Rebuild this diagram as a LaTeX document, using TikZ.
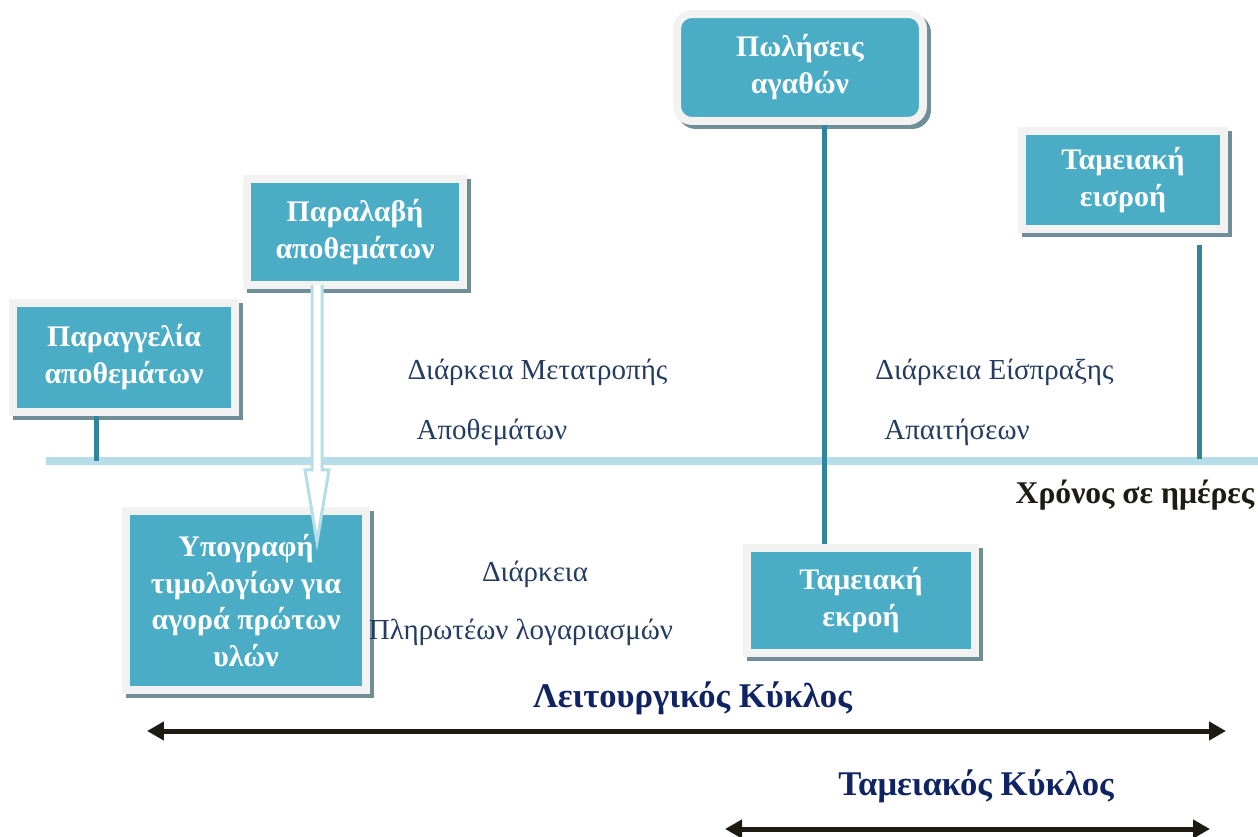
\documentclass[tikz,border=0pt]{standalone}
\usepackage{fontspec}
\setmainfont{Liberation Serif}
\usetikzlibrary{arrows.meta,shadows,calc}

\definecolor{boxteal}{RGB}{75,172,198}
\definecolor{framegray}{RGB}{242,242,242}
\definecolor{shadowcol}{RGB}{112,142,152}
\definecolor{linkteal}{RGB}{49,132,155}
\definecolor{timeblue}{RGB}{183,221,232}
\definecolor{spantext}{RGB}{36,60,96}
\definecolor{cycletext}{RGB}{16,36,100}
\definecolor{arrowblack}{RGB}{30,27,18}

\tikzset{
  stage/.style={rectangle, fill=boxteal, draw=framegray, line width=0.16cm,
    text=white, align=center, inner sep=0pt,
    font=\bfseries\fontsize{17}{21}\selectfont,
    drop shadow={shadow xshift=0.08cm, shadow yshift=-0.08cm, fill=shadowcol,
      draw=shadowcol, line width=0.16cm, opacity=1}},
  link/.style={draw=linkteal, line width=0.1cm},
  spanlabel/.style={anchor=base, inner sep=0pt, text=spantext,
    font=\fontsize{16.5}{20}\selectfont},
  axislabel/.style={anchor=base, inner sep=0pt, text=arrowblack,
    font=\bfseries\fontsize{18}{22}\selectfont},
  cyclelabel/.style={anchor=base, inner sep=0pt, text=cycletext,
    font=\bfseries\fontsize{19.7}{24}\selectfont},
  cyclearrow/.style={{Triangle[length=0.34cm,width=0.36cm]}-{Triangle[length=0.34cm,width=0.36cm]},
    draw=arrowblack, line width=0.1cm},
  hollowarrow/.style={draw=timeblue, line width=0.06cm, fill=white}
}

\begin{document}
\begin{tikzpicture}[x=0.02cm, y=-0.02cm] % 1 unit = 1 pixel of the sketch
        \useasboundingbox (0,0) rectangle (1258,837);

        % Stages
        \node[stage, minimum width=4.44cm, minimum height=2.18cm] (order) at (124,357.5) {Παραγγελία\\αποθεμάτων};
        \node[stage, minimum width=4.32cm, minimum height=2.12cm] (receipt) at (355,232) {Παραλαβή\\αποθεμάτων};
        \node[stage, minimum width=4.80cm, minimum height=3.58cm] (invoice) at (246,600.5) {Υπογραφή\\τιμολογίων για\\αγορά πρώτων\\υλών};
        \node[stage, rounded corners=0.3cm, minimum width=4.92cm, minimum height=2.14cm] (sales) at (800,67.5) {Πωλήσεις\\αγαθών};
        \node[stage, minimum width=4.04cm, minimum height=1.96cm] (cashin) at (1123,180) {Ταμειακή\\εισροή};
        \node[stage, minimum width=4.56cm, minimum height=2.10cm] (cashout) at (861,600.5) {Ταμειακή\\εκροή};

        % Time axis
        \coordinate (tstart) at (46,461);
        \coordinate (tend) at (1258,461);
        \draw[draw=timeblue, line width=0.16cm] (tstart) -- (tend);
        \node[axislabel] (days) at (1135,504) {Χρόνος σε ημέρες};

        % Links to the axis
        \coordinate (orderfoot) at (96,461);
        \coordinate (salesx) at (824.5,0);
        \coordinate (cashinfoot) at (1199,459);
        \draw[link] (order.south -| orderfoot) -- (orderfoot);
        \draw[link] (sales.south -| salesx) -- (cashout.north -| salesx);
        \draw[link] (cashin.south -| cashinfoot) ++(0,12) -- (cashinfoot);

        % Receipt arrow
        \coordinate (recvtip) at (317,542);
        \draw[hollowarrow] ($(receipt.south -| recvtip)+(-5,-4)$) -- ($(recvtip)+(-5,-72)$)
            -- ($(recvtip)+(-12,-72)$) -- (recvtip) -- ($(recvtip)+(12,-72)$)
            -- ($(recvtip)+(5,-72)$) -- ($(receipt.south -| recvtip)+(5,-4)$);

        % Periods
        \node[spanlabel] (invdays) at (537.5,380) {Διάρκεια Μετατροπής};
        \node[spanlabel] (invdays2) at (492,440) {Αποθεμάτων};
        \node[spanlabel] (recdays) at (994.5,380) {Διάρκεια Είσπραξης};
        \node[spanlabel] (recdays2) at (957,440) {Απαιτήσεων};
        \node[spanlabel] (paydays) at (535,582) {Διάρκεια};
        \node[spanlabel] (paydays2) at (521,640) {Πληρωτέων λογαριασμών};

        % Cycles
        \coordinate (opleft) at (147,731);
        \coordinate (opright) at (1226,731);
        \coordinate (cashleft) at (725,829);
        \coordinate (cashright) at (1210,829);
        \node[cyclelabel] (opname) at (692.5,707) {Λειτουργικός Κύκλος};
        \node[cyclelabel] (cashname) at (976,795) {Ταμειακός Κύκλος};
        \draw[cyclearrow] (opleft) -- (opright);
        \draw[cyclearrow] (cashleft) -- (cashright);
    \end{tikzpicture}
\end{document}
